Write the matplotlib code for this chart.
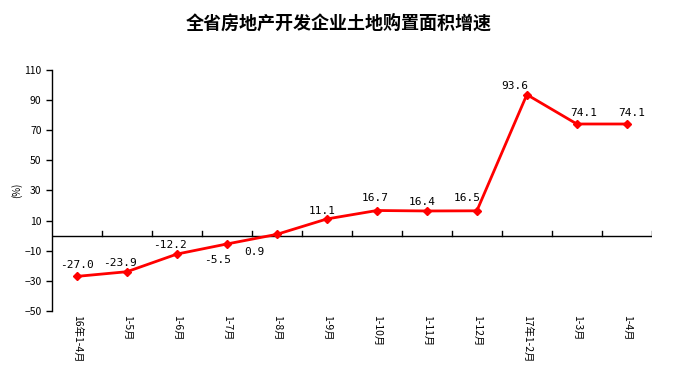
import matplotlib
matplotlib.use('Agg')
import matplotlib.pyplot as plt
import numpy as np

plt.rcParams['font.family'] = ['Noto Sans CJK SC', 'DejaVu Sans']

# Daten
categories = ['16年1-4月', '1-5月', '1-6月', '1-7月', '1-8月', '1-9月',
              '1-10月', '1-11月', '1-12月', '17年1-2月', '1-3月', '1-4月']
values = [-27.0, -23.9, -12.2, -5.5, 0.9, 11.1, 16.7, 16.4, 16.5, 93.6, 74.1, 74.1]

# Versatz der Datenbeschriftungen (Pixel)
label_dx = [0, -7, -7, -9, -23, -5, -2, -5, -10, -12, 7, 5]
label_dy = [11, 9, 9, -16, -18, 8, 13, 9, 13, 9, 11, 11]

fig = plt.figure(figsize=(6.77, 3.84), dpi=100)
ax = fig.add_axes([0.0768, 0.190, 0.886, 0.628])

x = np.arange(len(categories))
ax.plot(x, values, color='#ff0000', lw=2, marker='D', markersize=4.5, zorder=3)

for xi, v, dx, dy in zip(x, values, label_dx, label_dy):
    ax.annotate(f'{v:.1f}', (xi, v), xytext=(dx, dy), textcoords='offset pixels',
                ha='center', va='center', fontsize=8, family='DejaVu Sans Mono')

ax.set_xlim(-0.5, len(categories) - 0.5)
ax.set_ylim(-50, 110)
ax.set_yticks(range(-50, 111, 20))
ax.tick_params(axis='y', labelsize=7.5, length=4, width=1, direction='out')

# Nulllinie mit Strichen zwischen den Kategorien
ax.axhline(0, color='black', lw=1, zorder=2)
for b in np.arange(0.5, len(categories), 1.0):
    ax.plot([b, b], [0, 3], color='black', lw=1, zorder=2)

ax.set_xticks(x)
ax.set_xticklabels(categories, rotation=-90, fontsize=7.5, va='top', ha='center')
ax.tick_params(axis='x', length=0, pad=3)

for s in ['top', 'right', 'bottom']:
    ax.spines[s].set_visible(False)
ax.spines['left'].set_linewidth(1)

fig.text(0.025, 0.505, '(%)', rotation=90, fontsize=7, ha='center', va='center')
fig.text(0.5, 0.94, '全省房地产开发企业土地购置面积增速', fontsize=13, fontweight='bold',
         ha='center', va='center')

fig.savefig('out.png', dpi=100)
